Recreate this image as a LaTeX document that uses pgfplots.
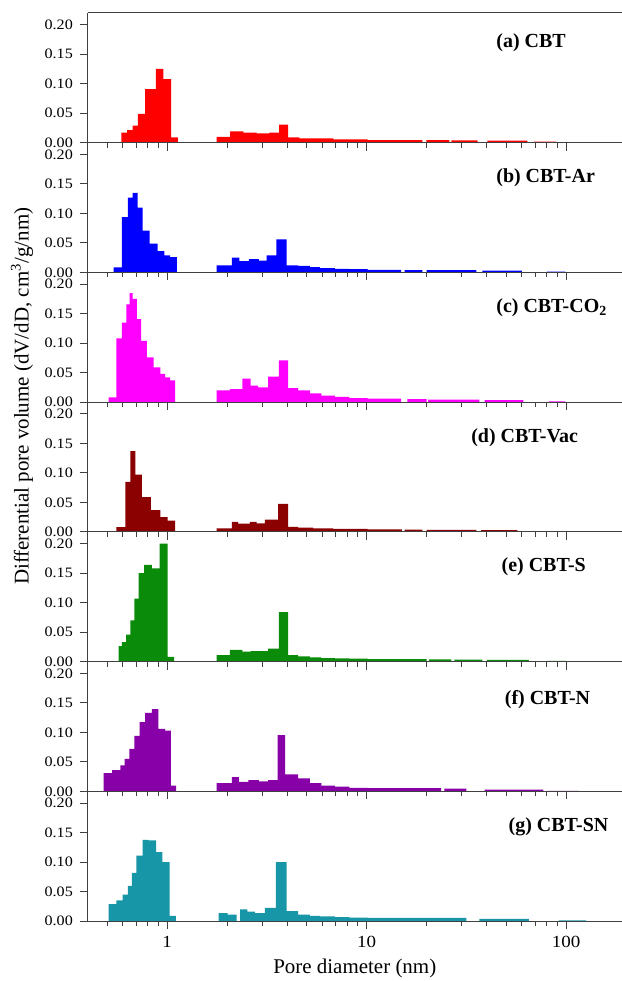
\documentclass[border=0pt]{standalone}
\usepackage{fontspec}
\setmainfont{Liberation Serif}
\newfontfamily\tickfont{Liberation Serif}[FakeStretch=1.12]
\usepackage{pgfplots}
\pgfplotsset{compat=1.18}
\definecolor{cA}{HTML}{FF0000}
\definecolor{cB}{HTML}{0000FF}
\definecolor{cC}{HTML}{FF00FF}
\definecolor{cD}{HTML}{8B0000}
\definecolor{cE}{HTML}{0A8C0A}
\definecolor{cF}{HTML}{8800A8}
\definecolor{cG}{HTML}{1796A8}
\definecolor{axc}{HTML}{404040}
\pgfplotsset{
  mypanel/.style={
    scale only axis, width=267.5pt, height=65pt,
    xmin=0.4, xmax=190, ymin=0, ymax=0.22,
    axis x line*=bottom, axis y line*=left,
    axis line style={draw=axc, line width=0.5pt},
    axis on top,
    tick align=outside,
    major tick length=4pt, minor tick length=2.5pt,
    tick style={draw=axc, line width=0.5pt},
    xtick={1,10,100}, xticklabels={},
    minor xtick={0.5,0.6,0.7,0.8,0.9,2,3,4,5,6,7,8,9,20,30,40,50,60,70,80,90},
    ytick={0,0.05,0.1,0.15,0.2},
    yticklabel style={font=\tickfont\fontsize{7.2}{8}\selectfont, inner ysep=0pt,
      /pgf/number format/fixed, /pgf/number format/fixed zerofill,
      /pgf/number format/precision=2,
      /pgf/number format/assume math mode=true},
    xticklabel style={font=\tickfont\fontsize{8.5}{9}\selectfont},
  },
}
\tikzset{mylab/.style={anchor=west, font=\fontsize{10}{12}\selectfont\bfseries}}
\begin{document}
\begin{tikzpicture}
% (a)
\begin{axis}[xmode=log, mypanel, name=a, anchor=north west, at={(0pt,0pt)},
  extra description/.code={\draw[axc, line width=0.5pt] (rel axis cs:0,1) -- (rel axis cs:1,1);}]
\addplot[fill=cA, draw=none, const plot] coordinates {
(0.589,0.017)(0.629,0.0215)(0.671,0.029)(0.713,0.049)(0.776,0.091)(0.878,0.125)(0.958,0.108)(1.047,0.009)(1.13,0)
(1.77,0.010)(2.065,0.019)(2.41,0.017)(2.81,0.016)(3.25,0.017)(3.64,0.0305)(4.04,0.009)(4.6,0.0073)(6.8,0.0056)(10.1,0.0045)(19.05,0)
(19.9,0.0045)(26,0)(26.6,0.004)(36,0)(40.3,0.0035)(64,0)(69,0.002)(89,0)} \closedcycle;
\node[mylab] at (rel axis cs:0.752,0.77) {(a) CBT};
\end{axis}
% (b)
\begin{axis}[xmode=log, mypanel, name=b, anchor=north west, at={(0pt,-65pt)}]
\addplot[fill=cB, draw=none, const plot] coordinates {
(0.539,0.0085)(0.593,0.094)(0.636,0.127)(0.671,0.135)(0.711,0.110)(0.753,0.071)(0.816,0.049)(0.895,0.036)(0.969,0.029)(1.035,0.026)(1.117,0)
(1.77,0.012)(2.11,0.025)(2.30,0.019)(2.57,0.0226)(2.88,0.020)(3.15,0.029)(3.53,0.056)(3.97,0.012)(4.53,0.011)(5.19,0.009)(5.82,0.0073)(6.92,0.006)(8.2,0.0056)(10.1,0.0045)(14.9,0)
(15.5,0.004)(19,0)(20,0.0038)(35.5,0)(38,0.003)(60,0)(80,0.0015)(99,0)} \closedcycle;
\node[mylab] at (rel axis cs:0.752,0.73) {(b) CBT-Ar};
\end{axis}
% (c)
\begin{axis}[xmode=log, mypanel, name=c, anchor=north west, at={(0pt,-130pt)}]
\addplot[fill=cC, draw=none, const plot] coordinates {
(0.509,0.008)(0.556,0.108)(0.593,0.135)(0.624,0.166)(0.648,0.185)(0.671,0.175)(0.705,0.141)(0.741,0.104)(0.791,0.076)(0.855,0.059)(0.923,0.048)(0.977,0.042)(1.035,0.037)(1.096,0)
(1.77,0.020)(2.06,0.022)(2.38,0.040)(2.62,0.028)(2.86,0.025)(3.21,0.0435)(3.63,0.071)(4.04,0.024)(4.53,0.020)(5.19,0.015)(5.93,0.011)(6.92,0.009)(8.2,0.007)(10.1,0.006)(14.9,0)
(16,0.005)(20,0)(20.3,0.0045)(36.7,0)(39,0.0035)(61,0)(82,0.0015)(99,0)} \closedcycle;
\node[mylab] at (rel axis cs:0.752,0.73) {(c) CBT-CO\textsubscript{2}};
\end{axis}
% (d)
\begin{axis}[xmode=log, mypanel, name=d, anchor=north west, at={(0pt,-195pt)}]
\addplot[fill=cD, draw=none, const plot] coordinates {
(0.556,0.008)(0.617,0.085)(0.653,0.137)(0.692,0.097)(0.747,0.059)(0.829,0.037)(0.923,0.025)(1.004,0.019)(1.096,0)
(1.77,0.006)(2.11,0.017)(2.27,0.014)(2.60,0.017)(2.81,0.0147)(3.09,0.021)(3.60,0.0475)(4.04,0.0085)(4.53,0.0073)(5.39,0.006)(6.78,0.005)(10.1,0.0045)(15,0)
(15.5,0.004)(19,0)(20,0.0035)(35.5,0)(37.5,0.003)(57,0)(82,0.0015)(100,0)} \closedcycle;
\node[mylab] at (rel axis cs:0.705,0.73) {(d) CBT-Vac};
\end{axis}
% (e)
\begin{axis}[xmode=log, mypanel, name=e, anchor=north west, at={(0pt,-260pt)}]
\addplot[fill=cE, draw=none, const plot] coordinates {
(0.571,0.0265)(0.593,0.033)(0.622,0.046)(0.653,0.070)(0.684,0.107)(0.719,0.150)(0.767,0.164)(0.838,0.158)(0.915,0.200)(1.004,0.008)(1.084,0)
(1.77,0.011)(2.06,0.020)(2.38,0.017)(2.62,0.018)(2.86,0.018)(3.21,0.022)(3.63,0.084)(4.04,0.011)(4.53,0.009)(5.19,0.0073)(5.93,0.006)(6.92,0.0056)(8.2,0.005)(10.1,0.0045)(20,0)
(20.5,0.004)(26.6,0)(27.5,0.0035)(38,0)(40,0.003)(65,0)(80,0.0015)(100,0)} \closedcycle;
\node[mylab] at (rel axis cs:0.762,0.73) {(e) CBT-S};
\end{axis}
% (f)
\begin{axis}[xmode=log, mypanel, name=f, anchor=north west, at={(0pt,-325pt)}]
\addplot[fill=cF, draw=none, const plot] coordinates {
(0.480,0.031)(0.529,0.036)(0.582,0.044)(0.612,0.055)(0.646,0.072)(0.684,0.094)(0.727,0.1175)(0.776,0.133)(0.838,0.1396)(0.902,0.106)(0.977,0.103)(1.043,0.0096)(1.109,0)
(1.77,0.014)(2.11,0.024)(2.29,0.016)(2.55,0.019)(2.88,0.017)(3.21,0.019)(3.58,0.0955)(3.9,0.029)(4.53,0.022)(5.19,0.014)(5.93,0.0096)(6.92,0.008)(8.2,0.006)(10.1,0.0055)(23.6,0)
(24.5,0.0045)(31.6,0)(39,0.003)(77,0)(80,0.001)(116,0)} \closedcycle;
\node[mylab] at (rel axis cs:0.768,0.71) {(f) CBT-N};
\end{axis}
% (g)
\begin{axis}[xmode=log, mypanel, name=g, anchor=north west, at={(0pt,-390pt)},
  xticklabels={1,10,100},
  xlabel={Pore diameter (nm)},
  xlabel style={font=\fontsize{10.5}{12}\selectfont, yshift=1pt}]
\addplot[fill=cG, draw=none, const plot] coordinates {
(0.509,0.029)(0.556,0.035)(0.598,0.045)(0.636,0.060)(0.666,0.082)(0.700,0.111)(0.753,0.138)(0.806,0.137)(0.881,0.117)(0.947,0.100)(1.027,0.009)(1.105,0)
(1.81,0.0136)(2.01,0.011)(2.23,0)(2.32,0.020)(2.52,0.016)(2.75,0.0136)(3.09,0.0226)(3.51,0.100)(3.97,0.017)(4.53,0.011)(5.19,0.009)(5.82,0.008)(6.92,0.007)(8.2,0.006)(10.1,0.0055)(31.6,0)
(36.7,0.004)(65,0)(92,0.0015)(126,0)} \closedcycle;
\node[mylab] at (rel axis cs:0.775,0.73) {(g) CBT-SN};
\end{axis}
\node[rotate=90, font=\fontsize{10.5}{12}\selectfont] at ([xshift=-33pt, yshift=-192pt]a.north west)
  {Differential pore volume (dV/dD, cm\textsuperscript{3}/g/nm)};
\pgfresetboundingbox
\useasboundingbox ([xshift=-44pt, yshift=6.5pt]a.north west) rectangle ([yshift=-30pt]g.south east);
\end{tikzpicture}
\end{document}
